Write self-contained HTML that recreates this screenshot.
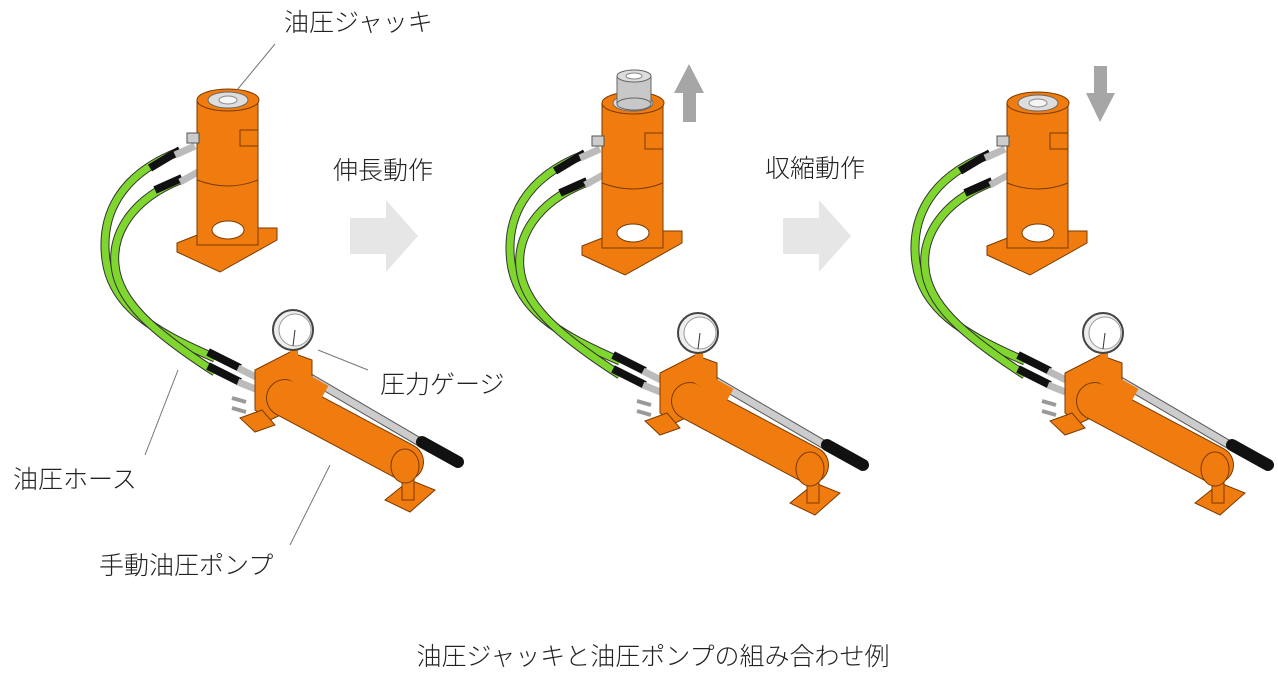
<!DOCTYPE html>
<html><head><meta charset="utf-8"><style>
html,body{margin:0;padding:0;background:#fff;}
svg{display:block}
text{font-family:"Liberation Sans","Noto Sans CJK JP",sans-serif;fill:#222;font-weight:300;}
</style></head><body>
<svg width="1278" height="677" viewBox="0 0 1278 677" xmlns="http://www.w3.org/2000/svg">
<defs>
<g id="set">
  <path d="M178,152 C120,175 100,215 106,260 C112,305 150,330 215,358" fill="none" stroke="#333" stroke-width="9"/>
  <path d="M178,152 C120,175 100,215 106,260 C112,305 150,330 215,358" fill="none" stroke="#7fd62e" stroke-width="7"/>
  <path d="M180,180 C130,200 112,235 115,265 C118,300 150,330 215,372" fill="none" stroke="#333" stroke-width="9"/>
  <path d="M180,180 C130,200 112,235 115,265 C118,300 150,330 215,372" fill="none" stroke="#7fd62e" stroke-width="7"/>
  <path d="M150,168 L180,150 M155,190 L182,178 M208,352 L240,368 M208,366 L240,382" stroke="#111" stroke-width="8"/>
  <path d="M175,155 L195,146 M180,182 L198,172 M238,368 L258,378 M238,382 L258,390" stroke="#bbb" stroke-width="7"/>
  <path d="M300,372 L430,448" stroke="#555" stroke-width="9"/>
  <path d="M300,372 L430,448" stroke="#ccc" stroke-width="7"/>
  <path d="M422,442 L458,462" stroke="#111" stroke-width="12" stroke-linecap="round"/>
  <polygon points="255,370 290,352 312,360 312,400 270,420 255,410" fill="#f07c10" stroke="#7a3a00" stroke-width="1"/>
  <polygon points="240,418 262,410 275,425 255,432" fill="#f07c10" stroke="#7a3a00" stroke-width="1"/>
  <path d="M285,398 L405,462" stroke="#7a3a00" stroke-width="38" stroke-linecap="round"/>
  <path d="M285,398 L405,462" stroke="#f07c10" stroke-width="36" stroke-linecap="round"/>
  <path d="M290,372 L325,392" stroke="#f07c10" stroke-width="14"/>
  <polygon points="385,500 410,480 435,490 410,512" fill="#f07c10" stroke="#7a3a00" stroke-width="1"/>
  <rect x="402" y="468" width="12" height="32" fill="#f07c10" stroke="#7a3a00"/>
  <ellipse cx="405" cy="466" rx="14" ry="17" fill="#f07c10" stroke="#7a3a00"/>
  <path d="M232,398 l14,4 M232,408 l14,4" stroke="#999" stroke-width="4"/>
  <rect x="290" y="345" width="8" height="14" fill="#f07c10"/>
  <circle cx="293" cy="330" r="20" fill="#eee" stroke="#444" stroke-width="2"/>
  <circle cx="295" cy="330" r="16" fill="#fff" stroke="#999"/>
  <line x1="295" y1="330" x2="293" y2="346" stroke="#333"/>
  <polygon points="177,243 215,228 277,228 277,240 220,272 177,252" fill="#f07c10" stroke="#7a3a00" stroke-width="1"/>
  <rect x="197" y="100" width="61" height="145" fill="#f07c10" stroke="#7a3a00"/>
  <path d="M197,180 Q228,192 258,180" fill="none" stroke="#7a3a00"/>
  <ellipse cx="228" cy="230" rx="16" ry="9" fill="#fff" stroke="#7a3a00"/>
  <ellipse cx="228" cy="100" rx="31" ry="11" fill="#f07c10" stroke="#7a3a00"/>
  <ellipse cx="228" cy="100" rx="20" ry="8" fill="#ddd" stroke="#666"/>
  <ellipse cx="228" cy="100" rx="9" ry="4" fill="#f5f5f5" stroke="#888"/>
  <rect x="240" y="130" width="18" height="16" fill="#f07c10" stroke="#7a3a00"/>
  <rect x="187" y="133" width="12" height="10" fill="#ccc" stroke="#555"/>
</g>
</defs>
<use href="#set"/>
<use href="#set" transform="translate(405,3)"/>
<use href="#set" transform="translate(810,3)"/>
<rect x="617" y="76" width="34" height="28" fill="#c8c8c8" stroke="#666"/>
<ellipse cx="634" cy="104" rx="17" ry="6" fill="#c8c8c8" stroke="#666"/>
<ellipse cx="634" cy="76" rx="17" ry="6" fill="#ddd" stroke="#666"/>
<ellipse cx="634" cy="76" rx="8" ry="3" fill="#fff" stroke="#888"/>
<polygon points="350,218 386,218 386,200 418,236 386,272 386,254 350,254" fill="#e6e6e6"/>
<polygon points="783,218 819,218 819,200 851,236 819,272 819,254 783,254" fill="#e6e6e6"/>
<polygon points="689,64 704,93 696,93 696,122 683,122 683,93 674,93" fill="#a6a6a6"/>
<polygon points="1100,122 1115,93 1107,93 1107,66 1094,66 1094,93 1086,93" fill="#a6a6a6"/>
<g stroke="#777" stroke-width="1">
<line x1="275" y1="44" x2="237" y2="90"/>
<line x1="318" y1="350" x2="368" y2="370"/>
<line x1="178" y1="370" x2="145" y2="455"/>
<line x1="330" y1="465" x2="290" y2="545"/>
</g>
<g font-size="25">
<text x="284" y="31">油圧ジャッキ</text>
<text x="333" y="179">伸長動作</text>
<text x="765" y="177">収縮動作</text>
<text x="380" y="393">圧力ゲージ</text>
<text x="13" y="488">油圧ホース</text>
<text x="99" y="574">手動油圧ポンプ</text>
<text x="653" y="665" text-anchor="middle">油圧ジャッキと油圧ポンプの組み合わせ例</text>
</g>
</svg>
</body></html>
